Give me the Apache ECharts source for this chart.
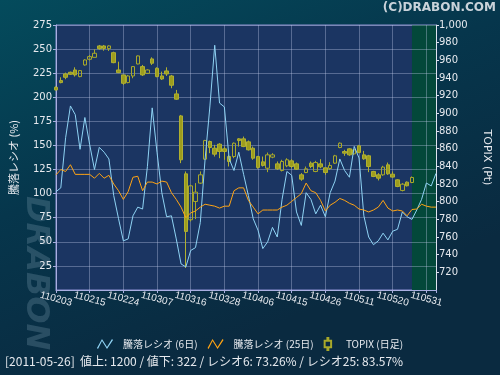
<!DOCTYPE html>
<html>
<head>
<meta charset="utf-8">
<script src="https://cdn.jsdelivr.net/npm/echarts@6/dist/echarts.min.js"></script>
<style>
  html, body { margin: 0; padding: 0; }
  #chart { width: 500px; height: 375px; }
</style>
</head>
<body>
<div id="chart"></div>
<script>
// trading days, yymmdd
const dates = [
  '110203','110204','110207','110208','110209','110210','110214','110215','110216','110217',
  '110218','110221','110222','110223','110224','110225','110228','110301','110302','110303',
  '110304','110307','110308','110309','110310','110311','110314','110315','110316','110317',
  '110318','110322','110323','110324','110325','110328','110329','110330','110331','110401',
  '110404','110405','110406','110407','110408','110411','110412','110413','110414','110415',
  '110418','110419','110420','110421','110422','110425','110426','110427','110428','110502',
  '110506','110509','110510','110511','110512','110513','110516','110517','110518','110519',
  '110520','110523','110524','110525','110526','110527','110530','110531','110601','110602'
]

// 騰落レシオ 6日 (%)
const ratio6 = [
  102, 106, 158, 191, 182, 146, 179, 151, 125, 148,
  143, 136, 98, 74, 51, 53, 77, 86, 84, 128,
  189, 143, 101, 76, 77, 53, 27, 24, 41, 44,
  70, 136, 191, 254, 194, 190, 136, 124, 143, 120,
  98, 74, 62, 43, 50, 65, 55, 94, 123, 119,
  81, 67, 101, 94, 79, 88, 76, 101, 113, 136,
  124, 117, 149, 137, 77, 55, 47, 51, 59, 52,
  61, 63, 81, 76, 73.26, 83, 94, 111, 108, 121
]

// 騰落レシオ 25日 (%)
const ratio25 = [
  119.5, 125, 123, 130, 120, 120, 120, 120, 116, 121,
  116, 119, 110, 103, 94, 102, 117, 118, 103, 112,
  112, 110, 113, 112, 101, 94, 86, 75, 80, 82,
  86, 89, 88, 87, 85, 87, 87, 103, 106, 106,
  93, 86, 79, 83, 83, 83, 83, 86, 88, 92,
  96, 100, 111, 103, 101, 93, 82, 88, 91, 95,
  93, 90, 88, 84, 83, 81, 83, 86, 93, 85,
  82, 83, 82, 77, 83.57, 84, 89, 87, 86, 86
]

// TOPIX daily (Pt)
const topixOpen = [
  929.5, 937.1, 944.6, 946.5, 949.1, 941.6, 954.8, 961.2, 963.4, 976.3,
  976.3, 973.2, 968.7, 949.1, 943.5, 934.8, 942.3, 955.9, 952.9, 945.3,
  961.6, 951.0, 942.3, 948.0, 942.3, 922.0, 897.1, 831.5, 779.5, 800.2,
  821.0, 848.1, 868.1, 860.5, 865.1, 859.8, 851.1, 851.1, 871.1, 871.1,
  867.7, 860.5, 851.1, 845.1, 837.9, 850.4, 842.8, 835.3, 840.6, 846.2,
  842.8, 830.4, 833.0, 843.6, 834.2, 842.8, 838.3, 837.6, 843.6, 861.3,
  856.8, 859.8, 854.1, 863.2, 853.0, 851.9, 834.2, 830.4, 830.4, 841.7,
  831.1, 824.7, 812.7, 822.1, 821.7
]
const topixClose = [
  926.5, 934.8, 940.8, 944.2, 943.5, 948.4, 960.4, 964.2, 968.0, 973.2,
  973.5, 976.3, 957.4, 946.1, 934.0, 942.3, 952.9, 965.0, 943.5, 949.1,
  956.7, 941.6, 938.9, 944.6, 931.8, 916.0, 847.4, 766.3, 817.9, 810.8,
  830.4, 869.2, 861.3, 853.8, 856.8, 856.8, 845.5, 866.2, 869.2, 862.4,
  858.7, 849.2, 838.7, 841.0, 853.0, 853.0, 837.2, 845.5, 847.4, 839.8,
  836.8, 825.5, 837.2, 839.8, 844.3, 839.4, 833.0, 841.0, 851.9, 866.2,
  854.9, 853.0, 858.7, 855.6, 848.5, 839.8, 828.5, 826.6, 839.1, 831.5,
  827.8, 817.2, 819.8, 818.0, 827.4
]
const topixLow = [
  925.8, 934.0, 938.6, 943.5, 941.6, 940.8, 954.0, 959.7, 963.4, 972.1,
  970.9, 970.6, 956.7, 945.5, 932.2, 934.0, 939.7, 955.5, 942.3, 944.6,
  954.8, 940.8, 937.8, 942.3, 928.4, 915.2, 843.6, 724.9, 777.6, 780.3,
  820.2, 847.4, 854.9, 851.1, 849.2, 847.4, 839.8, 849.2, 862.4, 861.7,
  857.9, 847.4, 837.2, 839.8, 833.4, 849.2, 836.0, 834.2, 839.1, 837.6,
  836.0, 823.6, 832.3, 837.9, 833.4, 837.9, 830.4, 836.0, 842.8, 860.5,
  851.9, 851.9, 853.0, 854.9, 847.4, 833.4, 827.8, 824.0, 829.3, 830.4,
  827.4, 816.4, 811.6, 817.2, 821.0
]
const topixHigh = [
  930.6, 940.8, 946.1, 947.2, 952.1, 949.1, 961.2, 966.1, 972.5, 977.4,
  977.4, 977.0, 969.8, 958.5, 943.5, 943.5, 953.6, 965.5, 954.8, 949.9,
  963.4, 952.1, 947.2, 952.1, 943.5, 926.5, 898.2, 834.2, 819.1, 821.0,
  834.2, 870.0, 869.2, 864.3, 866.2, 862.4, 853.0, 867.0, 871.9, 873.7,
  869.2, 862.4, 851.9, 851.1, 855.6, 854.9, 845.5, 847.4, 849.2, 848.1,
  844.3, 832.3, 839.8, 845.5, 846.2, 848.1, 838.3, 844.7, 853.0, 867.0,
  858.7, 860.5, 859.4, 864.3, 857.5, 853.0, 834.9, 832.3, 840.6, 844.3,
  834.2, 825.5, 821.0, 822.9, 828.5
]

const footer = '[2011-05-26]  値上: 1200 / 値下: 322 / レシオ6: 73.26% / レシオ25: 83.57%'

// echarts candlestick order: open, close, low, high
const candles = topixOpen.map((o, i) => [o, topixClose[i], topixLow[i], topixHigh[i]])

const txt = '#e6e9ee'
const axisCol = '#a9aee0'
const gridCol = 'rgba(200,210,240,0.35)'
const font = 'DejaVu Sans'
const jpFont = 'Noto Sans CJK JP'

const lineIcon = 'path://M0,10 L5,1 L10,9 L15,1 L16,2 L10,11 L5,3 L1,11 Z'
const candleIcon = 'path://M3,0 L4,0 L4,3 L7,3 L7,10 L4,10 L4,13 L3,13 L3,10 L0,10 L0,3 L3,3 Z'

const chart = echarts.init(document.getElementById('chart'))

chart.setOption({
  animation: false,
  backgroundColor: {
    type: 'linear', x: 0, y: 0, x2: 0.3, y2: 1,
    colorStops: [
      { offset: 0, color: '#044b5c' },
      { offset: 0.5, color: '#06364c' },
      { offset: 1, color: '#0a2a40' }
    ]
  },
  textStyle: { fontFamily: font },
  grid: {
    left: 55, right: 64, top: 25, bottom: 85,
    show: true,
    backgroundColor: '#1b3562',
    borderColor: '#8b8fd0',
    borderWidth: 1
  },
  graphic: [
    {
      type: 'text', right: 4, top: 2,
      style: { text: '(C)DRABON.COM', fill: '#c9d2da', font: 'bold 12px "DejaVu Sans"' }
    },
    {
      type: 'text', x: 51, y: 196, rotation: -Math.PI / 2, z: -1,
      style: { text: 'DRABON', fill: 'rgba(130,160,180,0.28)', font: 'italic bold 32px "DejaVu Sans"' }
    },
    {
      type: 'text', left: 5, top: 355,
      style: { text: footer, fill: txt, font: '12px "Noto Sans CJK JP"' }
    }
  ],
  legend: {
    bottom: 19,
    left: 'center',
    itemWidth: 16,
    itemHeight: 12,
    itemGap: 10,
    textStyle: { color: txt, fontSize: 10, fontFamily: jpFont, padding: [0, 0, 0, 5] },
    data: [
      { name: '騰落レシオ (6日)', icon: lineIcon },
      { name: '騰落レシオ (25日)', icon: lineIcon },
      { name: 'TOPIX (日足)', icon: candleIcon }
    ]
  },
  xAxis: {
    type: 'category',
    data: dates,
    boundaryGap: false,
    z: 2,
    axisLine: { lineStyle: { color: axisCol } },
    axisTick: { interval: 6, length: 3, lineStyle: { color: axisCol } },
    axisLabel: {
      // every label is laid out, only each 7th day gets text
      interval: 0, color: txt, fontSize: 10, rotate: -15, align: 'center',
      margin: 9, fontFamily: 'Liberation Sans',
      formatter: (v, i) => (i % 7 === 0 ? v : '')
    },
    splitLine: { show: true, interval: 6, lineStyle: { color: gridCol } }
  },
  yAxis: [
    {
      type: 'value',
      min: 0, max: 275, interval: 25,
      z: 2,
      name: '騰落レシオ (%)',
      nameLocation: 'middle',
      nameRotate: 90,
      nameGap: 37,
      nameTextStyle: { color: txt, fontSize: 11, fontFamily: jpFont },
      axisLine: { show: true, lineStyle: { color: axisCol } },
      axisTick: { show: true, length: 3, lineStyle: { color: axisCol } },
      axisLabel: { color: txt, fontSize: 10, margin: 4, showMinLabel: false },
      splitLine: { lineStyle: { color: gridCol } }
    },
    {
      type: 'value',
      min: 700, max: 1000, interval: 20,
      position: 'right',
      z: 2,
      name: 'TOPIX (Pt)',
      nameLocation: 'middle',
      nameRotate: -90,
      nameGap: 45,
      nameTextStyle: { color: txt, fontSize: 11, fontFamily: font },
      axisLine: { show: true, lineStyle: { color: '#dfe3f0' } },
      axisTick: { show: true, length: 3, lineStyle: { color: '#dfe3f0' } },
      axisLabel: {
        color: txt, fontSize: 10, margin: 3, showMinLabel: false,
        formatter: v => v.toLocaleString('en-US')
      },
      splitLine: { show: false }
    }
  ],
  series: [
    {
      name: '騰落レシオ (6日)',
      type: 'line',
      data: ratio6,
      showSymbol: false,
      z: 4,
      itemStyle: { color: '#8fd3f4' },
      lineStyle: { width: 1, color: '#8fd3f4' }
    },
    {
      name: '騰落レシオ (25日)',
      type: 'line',
      data: ratio25,
      showSymbol: false,
      z: 4,
      itemStyle: { color: '#ffa414' },
      lineStyle: { width: 1, color: '#ffa414' }
    },
    {
      name: 'TOPIX (日足)',
      type: 'candlestick',
      yAxisIndex: 1,
      data: candles,
      barWidth: 4,
      z: 3,
      itemStyle: {
        color: 'rgba(0,0,0,0)',
        color0: '#9d9d1e',
        borderColor: '#a8a82a',
        borderColor0: '#b0b030',
        borderWidth: 1
      },
      markArea: {
        silent: true,
        z: 1,
        itemStyle: { color: '#03483a' },
        data: [[{ xAxis: '110526' }, { xAxis: '110602' }]]
      }
    }
  ]
})
</script>
</body>
</html>
